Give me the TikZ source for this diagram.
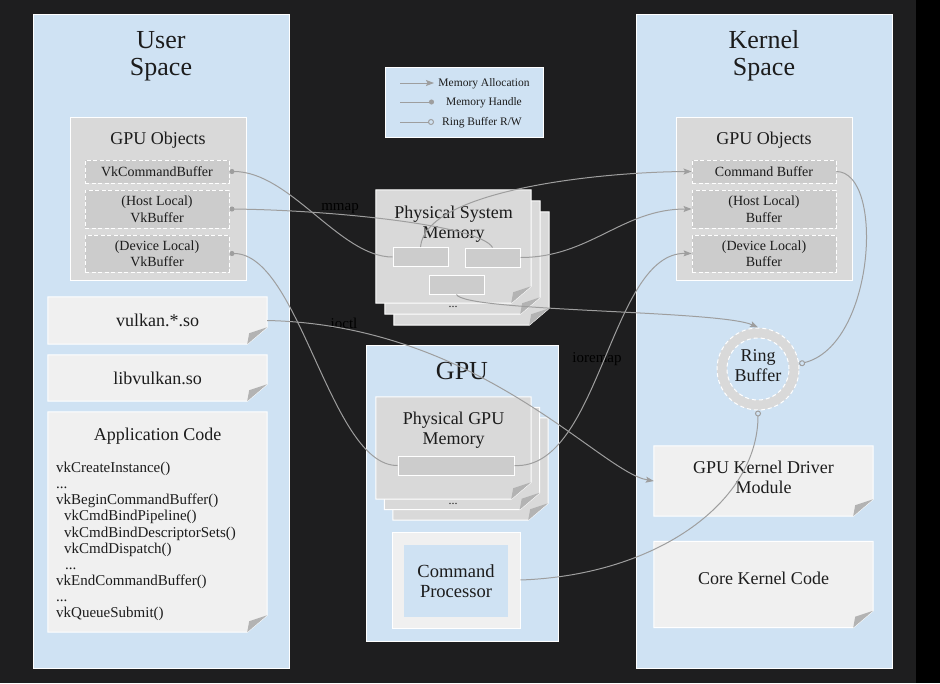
\documentclass[tikz,border=0pt]{standalone}
\usepackage{fontspec}
\setmainfont{Liberation Serif}
\usetikzlibrary{positioning, calc, arrows.meta, backgrounds}

\definecolor{bgdark}{RGB}{30,30,31}
\definecolor{panelblue}{HTML}{CFE2F3}
\definecolor{objgray}{HTML}{D9D9D9}
\definecolor{bufgray}{HTML}{CCCCCC}
\definecolor{pagewhite}{HTML}{F0F0F0}
\definecolor{foldgray}{HTML}{B3B3B3}
\definecolor{linkgray}{HTML}{9E9E9E}
\definecolor{textdark}{HTML}{1C1C1C}

\newcommand{\fsize}[2]{\fontsize{#1}{#2}\selectfont}

% sheet with a folded bottom right corner, drawn behind node #1
\newcommand{\dogear}[2]{%
	\begin{scope}[on background layer]
		\filldraw[fill=#2, draw=white, line width=1pt]
			(#1.north west) -- (#1.north east) -- ([yshift=17pt]#1.south east)
			-- ([xshift=-20pt]#1.south east) -- (#1.south west) -- cycle;
		\fill[foldgray] ([yshift=17pt]#1.south east) -- ([xshift=-18pt,yshift=11pt]#1.south east)
			-- ([xshift=-20pt]#1.south east) -- cycle;
	\end{scope}}

\tikzset{
	panel/.style={fill=panelblue, draw=white, line width=1pt, inner sep=0pt},
	spacetitle/.style={align=center, text=textdark, inner sep=0pt, font=\fsize{26}{27}},
	boxtitle/.style={align=center, text=textdark, inner sep=0pt, font=\fsize{18}{20}},
	objbox/.style={fill=objgray, draw=white, line width=1pt, inner sep=0pt, minimum width=176pt, minimum height=163pt},
	bufbox/.style={fill=bufgray, draw=white, line width=0.9pt, dash pattern=on 4pt off 2.5pt, inner sep=0pt,
		minimum width=144pt, align=center, text=textdark, font=\fsize{14}{16.5}},
	memrect/.style={fill=bufgray, draw=white, line width=1pt, inner sep=0pt, minimum width=55pt, minimum height=19pt},
	pagenode/.style={inner sep=0pt, minimum width=219pt, align=center, text=textdark, font=\fsize{18}{20}},
	memnode/.style={inner sep=0pt, minimum width=155pt},
	codetext/.style={anchor=north west, align=left, inner sep=0pt, text=textdark, font=\fsize{15}{16.1}},
	dots/.style={inner sep=0pt, text=textdark, font=\fsize{12}{14}},
	legendtext/.style={inner sep=0pt, text=textdark, font=\fsize{11.5}{13}},
	edgelabel/.style={inner sep=0pt, text=black, font=\fsize{15}{17}},
	link/.style={draw=linkgray, line width=1pt},
	memalloc/.style={link, -{Stealth[length=8pt, width=6pt, inset=1.5pt]}},
	memhandle/.style={link, -{Circle[length=5pt]}},
	ringrw/.style={link, -{Circle[open, length=6pt]}},
}

\begin{document}
\begin{tikzpicture}[x=1pt, y=-1pt]
	\useasboundingbox (0,0) rectangle (940,683);
	\begin{scope}[on background layer]
		\fill[bgdark] (0,0) rectangle (916,683);
		\fill[black] (916,0) rectangle (940,683);
		\node[panel, minimum width=256pt, minimum height=654pt] (user) at (161,341) {};
		\node[panel, minimum width=256pt, minimum height=654pt] (kernel) at (764,341) {};
		\node[panel, minimum width=192pt, minimum height=296pt] (gpu) at (462,493) {};
	\end{scope}

	\node[spacetitle] (usertitle) at (161,56) {User\\Space};
	\node[spacetitle] (kerneltitle) at (764,56) {Kernel\\Space};
	\node[spacetitle] (gputitle) at (462,371) {GPU};

	% legend
	\node[fill=panelblue, draw=white, line width=1pt, minimum width=158pt, minimum height=70pt] (legend) at (464,102) {};
	\coordinate (lgallocA) at (400,83);
	\coordinate (lgallocB) at (434,83);
	\coordinate (lghandleA) at (400,102);
	\coordinate (lghandleB) at (434,102);
	\coordinate (lgringA) at (400,122);
	\coordinate (lgringB) at (434,122);
	\draw[memalloc] (lgallocA) -- (lgallocB);
	\draw[memhandle] (lghandleA) -- (lghandleB);
	\draw[ringrw] (lgringA) -- (lgringB);
	\node[legendtext] (lgalloc) at (484,84) {Memory Allocation};
	\node[legendtext] (lghandle) at (484,103) {Memory Handle};
	\node[legendtext] (lgring) at (482,123) {Ring Buffer R/W};

	% user space objects
	\node[objbox] (uobj) at (158,198.5) {};
	\node[boxtitle] (uobjtitle) at (158,140) {GPU Objects};
	\node[bufbox, minimum height=23pt] (vkcmd) at (157,171.5) {VkCommandBuffer};
	\node[bufbox, minimum height=38pt] (uhost) at (157,209) {(Host Local)\\VkBuffer};
	\node[bufbox, minimum height=37pt] (udev) at (157,253.5) {(Device Local)\\VkBuffer};

	\node[pagenode, minimum height=47pt] (vulkanso) at (157.5,320.5) {vulkan.*.so};
	\dogear{vulkanso}{pagewhite}
	\node[pagenode, minimum height=46pt] (libvulkan) at (157.5,378) {libvulkan.so};
	\dogear{libvulkan}{pagewhite}
	\node[pagenode, minimum height=220pt] (appcode) at (157.5,522) {};
	\dogear{appcode}{pagewhite}
	\node[boxtitle] (apptitle) at (157.5,436) {Application Code};
	\node[codetext] (appsteps) at (56,462) {vkCreateInstance()\\
		...\\
		vkBeginCommandBuffer()\\
		\hspace*{8pt}vkCmdBindPipeline()\\
		\hspace*{8pt}vkCmdBindDescriptorSets()\\
		\hspace*{8pt}vkCmdDispatch()\\
		\hspace*{9pt}...\\
		vkEndCommandBuffer()\\
		...\\
		vkQueueSubmit()};

	% kernel space objects
	\node[objbox] (kobj) at (764,198.5) {};
	\node[boxtitle] (kobjtitle) at (764,140) {GPU Objects};
	\node[bufbox, minimum height=23pt] (kcmd) at (764,171.5) {Command Buffer};
	\node[bufbox, minimum height=38pt] (khost) at (764,209) {(Host Local)\\Buffer};
	\node[bufbox, minimum height=37pt] (kdev) at (764,253.5) {(Device Local)\\Buffer};

	\node[pagenode, minimum height=70pt] (driver) at (763.5,481) {};
	\dogear{driver}{pagewhite}
	\node[boxtitle] (drivertext) at (763.5,477) {GPU Kernel Driver\\Module};
	\node[pagenode, minimum height=86pt] (corekernel) at (763.5,584.5) {};
	\dogear{corekernel}{pagewhite}
	\node[boxtitle] (coretext) at (763.5,578) {Core Kernel Code};

	% physical system memory
	\node[memnode, minimum height=113pt] (sysmem3) at (471.5,268.5) {};
	\dogear{sysmem3}{objgray}
	\node[memnode, minimum height=113pt] (sysmem2) at (462.5,257.5) {};
	\dogear{sysmem2}{objgray}
	\node[memnode, minimum height=113pt] (sysmem) at (453.5,246.5) {};
	\dogear{sysmem}{objgray}
	\node[boxtitle] (systitle) at (453.5,224) {Physical System\\Memory};
	\node[dots] (sysdots) at (453,307) {...};
	\node[memrect] (sysL) at (420.5,257) {};
	\node[memrect] (sysR) at (492.5,257.5) {};
	\node[memrect] (sysB) at (456.5,284.5) {};

	% gpu memory and command processor
	\node[memnode, minimum height=102pt] (gpumem3) at (470.5,469) {};
	\dogear{gpumem3}{objgray}
	\node[memnode, minimum height=102pt] (gpumem2) at (462,458.5) {};
	\dogear{gpumem2}{objgray}
	\node[memnode, minimum height=102pt] (gpumem) at (453.5,448) {};
	\dogear{gpumem}{objgray}
	\node[boxtitle] (gputitle2) at (453.5,430) {Physical GPU\\Memory};
	\node[dots] (gpudots) at (453,504) {...};
	\node[memrect, minimum width=116pt] (gpuR) at (456,465.5) {};

	\node[fill=pagewhite, draw=white, line width=1pt, minimum width=128pt, minimum height=96pt] (cmdproc) at (456,580) {};
	\node[boxtitle, fill=panelblue, minimum width=104pt, minimum height=72pt, font=\fsize{18.5}{20}] (cmdcore) at (456,581) {Command\\Processor};

	% ring buffer
	\node[circle, fill=objgray, draw=white, dash pattern=on 4pt off 3pt, line width=1pt, minimum size=82pt, inner sep=0pt] (ring) at (758,369) {};
	\node[circle, fill=panelblue, draw=white, dash pattern=on 4pt off 3pt, line width=1pt, minimum size=62pt, inner sep=0pt] (ringcore) at (758,369) {};
	\node[boxtitle] (ringtext) at (758,366) {Ring\\Buffer};

	% connectors
	\node[edgelabel] (mmaplabel) at (340,209) {mmap};
	\node[edgelabel] (ioctllabel) at (344,323) {ioctl};
	\node[edgelabel] (ioremaplabel) at (597,359) {ioremap};

	\draw[memhandle] (sysL.west) .. controls (340,257) and (290,171.5) .. (vkcmd.east);
	\draw[memhandle] (sysR.north) .. controls (480,225) and (330,210) .. (uhost.east);
	\draw[memhandle] (gpuR.west) .. controls (330,466) and (300,253.5) .. (udev.east);
	\draw[memalloc] (sysL.north) .. controls (425,190) and (600,172) .. (kcmd.west);
	\draw[memalloc] (sysR.east) to[out=0, in=180] (khost.west);
	\draw[memalloc] (gpuR.east) .. controls (600,470) and (610,252) .. (kdev.west);
	\draw[memalloc] (sysB.south) .. controls (465,312) and (720,310) .. (ring.north);
	\draw[memalloc] (vulkanso.east) .. controls (480,325) and (600,472) .. (driver.west);
	\draw[ringrw] (kcmd.east) .. controls (885,172) and (875,345) .. (ring.7);
	\draw[ringrw] (cmdproc.east) .. controls (660,575) and (758,500) .. (ring.south);
\end{tikzpicture}
\end{document}
